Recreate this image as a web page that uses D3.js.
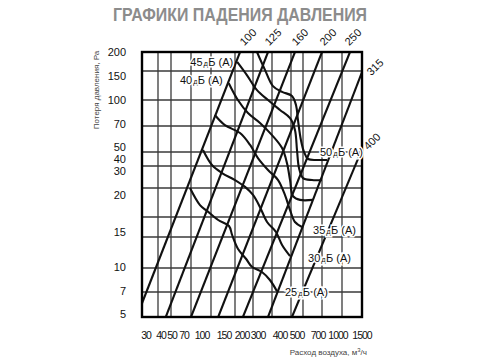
<!DOCTYPE html>
<html><head><meta charset="utf-8">
<script src="https://cdn.jsdelivr.net/npm/d3@7"></script>
<style>body{margin:0;background:#fff}</style>
</head><body>
<svg id="c" width="480" height="360"></svg>
<script>
// ---- data ----
const xTicks = [30,40,50,70,100,150,200,300,400,500,700,1000,1500];
const yTicks = [200,150,100,70,50,40,30,20,15,10,7,5];
const ductSizes = ["100","125","160","200","250","315","400"];
const duct100 = [[30,6.1],[164,200]];
const duct125 = [[46,5],[279,200]];
const duct160 = [[70,5],[433,200]];
const duct200 = [[115,5],[700,200]];
const duct250 = [[172,5],[1200,200]];
const duct315 = [[279,5],[1500,148]];
const duct400 = [[408,5],[1500,52]];
const noiseLevels = ["50","45","40","35","30","25"];
const noise50 = [[221,200],[263,153],[305,124],[353,114],[408,107],[442,94],[458,77],[483,59],[511,50],[553,45],[658,44.3],[775,44.3]];
const noise45 = [[156,174],[183,143],[221,117],[279,100],[342,88.5],[395,79],[433,67],[450,51.5],[467,39],[500,34.5],[595,33.6],[700,33.6]];
const noise40 = [[137,129],[158,100],[186,85],[237,73.5],[300,63],[353,53],[379,42],[395,33.6],[417,27.2],[475,25.9],[605,25.9]];
const noise35 = [[108,82.7],[129,71],[164,64.6],[192,55.4],[226,45.7],[279,38.2],[332,33.6],[368,27.6],[395,22.4],[433,18.75],[492,17.5]];
const noise30 = [[88,51.5],[102,40.7],[123,36.8],[150,33.6],[178,30.5],[200,27.6],[237,23.4],[274,18.75],[321,16.25],[353,13.7],[395,11.9]];
const noise25 = [[69,30],[83.5,24.1],[94,22.1],[115,19.25],[137.5,17.75],[144,15.5],[158,13.1],[181,11.45],[197,10.2],[247,9.5],[289,8.5],[326,7.1]];

const ducts = [duct100,duct125,duct160,duct200,duct250,duct315,duct400];
const noises = [noise50,noise45,noise40,noise35,noise30,noise25];

// ---- scales (non-uniform chart grid, piecewise) ----
const x = d3.scaleLinear().domain(xTicks).range([142,158,171,191,211,235,253,272,291,303,322,342,362]);
const y = d3.scaleLinear().domain(yTicks).range([52,71,100,126,152,166,188,217,237,268,292,317]);
// tick-label placement as printed in the original
const xl = d3.scaleLinear().domain(xTicks).range([146,161,172,184,202,224,242,258,280,297,318,338,362]);
const yl = d3.scaleLinear().domain(yTicks).range([52,76,100,124,147,159,171,195,232,267,291,314]);

const svg = d3.select("#c");
const L = x(30), R = x(1500), T = y(200), B = y(5);

// title
svg.append("text").attr("x",240).attr("y",21).attr("text-anchor","middle")
  .attr("font-family","Liberation Sans, Arial, sans-serif").attr("font-weight","bold")
  .attr("font-size",19).attr("fill","#8c8c8c")
  .attr("textLength",254).attr("lengthAdjust","spacingAndGlyphs")
  .text("ГРАФИКИ ПАДЕНИЯ ДАВЛЕНИЯ");

// clip
svg.append("clipPath").attr("id","plot").append("rect")
  .attr("x",L).attr("y",T).attr("width",R-L).attr("height",B-T);

// grid
const grid = svg.append("g").attr("stroke","#3a3a3a").attr("stroke-width",1.3);
grid.selectAll("line.v").data(xTicks).join("line").attr("class","v")
  .attr("x1",d=>x(d)).attr("x2",d=>x(d)).attr("y1",T).attr("y2",B);
grid.selectAll("line.h").data(yTicks).join("line").attr("class","h")
  .attr("y1",d=>y(d)).attr("y2",d=>y(d)).attr("x1",L).attr("x2",R);

const plot = svg.append("g").attr("clip-path","url(#plot)");
const straight = d3.line().x(d=>x(d[0])).y(d=>y(d[1]));
plot.selectAll("path.duct").data(ducts).join("path").attr("class","duct")
  .attr("d",straight).attr("fill","none").attr("stroke","#111").attr("stroke-width",2.1);

const smooth = d3.line().x(d=>x(d[0])).y(d=>y(d[1])).curve(d3.curveCatmullRom.alpha(0.5));
plot.selectAll("path.noise").data(noises).join("path").attr("class","noise")
  .attr("d",smooth).attr("fill","none").attr("stroke","#111").attr("stroke-width",2.1)
  .attr("stroke-linejoin","round");

// border
svg.append("rect").attr("x",L).attr("y",T).attr("width",R-L).attr("height",B-T)
  .attr("fill","none").attr("stroke","#000").attr("stroke-width",2.4);

// axis tick labels
const font = "Liberation Sans, Arial, sans-serif";
svg.append("g").selectAll("text").data(yTicks).join("text")
  .attr("x",126).attr("y",d=>yl(d)).attr("dy","0.36em").attr("text-anchor","end")
  .attr("font-family",font).attr("font-size",11).attr("fill","#111").text(d=>d);
svg.append("g").selectAll("text").data(xTicks).join("text")
  .attr("x",d=>xl(d)).attr("y",339).attr("text-anchor","middle")
  .attr("font-family",font).attr("font-size",10.5).attr("letter-spacing",-1).attr("fill","#111").text(d=>d);

// axis titles
svg.append("text").attr("transform","translate(99,90) rotate(-90)").attr("text-anchor","middle")
  .attr("font-family",font).attr("font-size",8).attr("fill","#444").text("Потеря давления, Ра");
const xt = svg.append("text").attr("x",367).attr("y",355).attr("text-anchor","end")
  .attr("font-family",font).attr("font-size",8).attr("fill","#444");
xt.append("tspan").text("Расход воздуха, м");
xt.append("tspan").attr("dy",-3).attr("font-size",6).text("3");
xt.append("tspan").attr("dy",3).text("/ч");

// duct size labels
const ductOff = [[8,-15],[5,-15],[5,-15],[6,-15],[3,-15],[13,-5],[10,-8]];
svg.append("g").selectAll("text").data(ducts).join("text")
  .attr("transform",(d,i)=>{const p=d[1];return `translate(${x(p[0])+ductOff[i][0]},${y(p[1])+ductOff[i][1]}) rotate(-45)`;})
  .attr("text-anchor","middle").attr("dy","0.35em")
  .attr("font-family",font).attr("font-size",11).attr("fill","#111")
  .text((d,i)=>ductSizes[i]);

// noise labels
const lab = [
  {pt:"last", dx:-7, dy:-8, anchor:"start"},
  {pt:"first", dx:-4, dy:0, anchor:"end"},
  {pt:"first", dx:-6, dy:-3, anchor:"end"},
  {pt:"last", dx:11, dy:3, anchor:"start"},
  {pt:"last", dx:18, dy:2, anchor:"start"},
  {pt:"last", dx:8, dy:1, anchor:"start"}
];
noises.forEach((n,i)=>{
  const c = lab[i]; const p = c.pt==="first"? n[0] : n[n.length-1];
  const t = svg.append("text").attr("x",x(p[0])+c.dx).attr("y",y(p[1])+c.dy).attr("dy","0.36em")
    .attr("text-anchor",c.anchor).attr("font-family",font).attr("font-size",11).attr("fill","#111")
    .attr("stroke","#fff").attr("stroke-width",3).attr("paint-order","stroke");
  t.append("tspan").text(noiseLevels[i]);
  t.append("tspan").attr("font-size",8).attr("dx",1).text("д");
  t.append("tspan").text("Б (A)");
});
</script>
</body></html>
